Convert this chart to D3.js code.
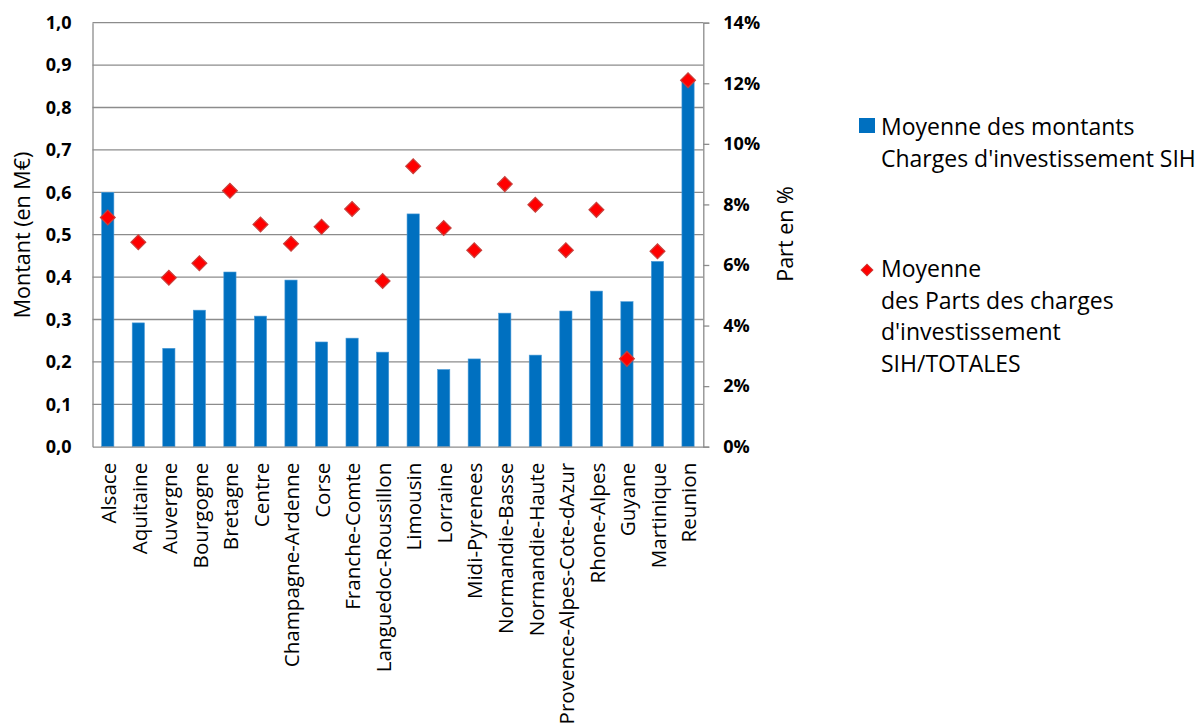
<!DOCTYPE html>
<html><head><meta charset="utf-8">
<script src="https://cdn.jsdelivr.net/npm/d3@7/dist/d3.min.js"></script>
<style>
body{margin:0;background:#fff;}
text{font-family:"Open Sans",sans-serif;fill:#000;}
</style></head>
<body>
<svg id="c" width="1198" height="728"></svg>
<script>
const categories = ["Alsace","Aquitaine","Auvergne","Bourgogne","Bretagne","Centre","Champagne-Ardenne","Corse","Franche-Comte","Languedoc-Roussillon","Limousin","Lorraine","Midi-Pyrenees","Normandie-Basse","Normandie-Haute","Provence-Alpes-Cote-dAzur","Rhone-Alpes","Guyane","Martinique","Reunion"];
const montants = [0.600,0.292,0.232,0.322,0.412,0.308,0.393,0.247,0.256,0.223,0.549,0.182,0.207,0.315,0.216,0.320,0.367,0.342,0.437,0.865];
const parts = [0.0757,0.0675,0.0558,0.0606,0.0845,0.0734,0.0670,0.0726,0.0785,0.0547,0.0926,0.0722,0.0649,0.0867,0.0799,0.0649,0.0782,0.0290,0.0645,0.1210];
const leftTicks = [0,0.1,0.2,0.3,0.4,0.5,0.6,0.7,0.8,0.9,1.0];
const rightTicks = [0,0.02,0.04,0.06,0.08,0.10,0.12,0.14];
const legendBar = ["Moyenne des montants","Charges d'investissement SIH"];
const legendDot = ["Moyenne","des Parts des charges","d'investissement","SIH/TOTALES"];

const svg = d3.select("#c");
const L = 92.5, R = 703.3, T = 22.7, B = 446.7;
const x = d3.scaleBand().domain(categories).range([L, R]).paddingInner(0.6).paddingOuter(0.3);
const y = d3.scaleLinear().domain([0,1]).range([B, T]);
const y2 = d3.scaleLinear().domain([0,0.14]).range([B, T]);
const grid = "#8c8c8c";

// gridlines
svg.append("g").selectAll("line").data(leftTicks.slice(1)).join("line")
  .attr("x1", L).attr("x2", R).attr("y1", d => y(d)).attr("y2", d => y(d))
  .attr("stroke", grid).attr("stroke-width", 1.3);

// bars
svg.append("g").selectAll("rect").data(montants).join("rect")
  .attr("x", (d,i) => x(categories[i]))
  .attr("width", x.bandwidth())
  .attr("y", d => y(d)).attr("height", d => B - y(d))
  .attr("fill", "#0070C0").attr("stroke", "#4a9ad6").attr("stroke-width", 0.6);

// left axis
const la = svg.append("g").attr("transform", `translate(${L},0)`)
  .call(d3.axisLeft(y).tickValues(leftTicks).tickSize(0).tickPadding(21)
    .tickFormat(d => d3.format(".1f")(d).replace(".", ",")));
la.select(".domain").attr("stroke", grid).attr("stroke-width", 1.3);
la.selectAll("text").attr("font-size", 18).attr("font-weight", "bold").attr("font-family", "Open Sans");

// right axis
const ra = svg.append("g").attr("transform", `translate(${R},0)`)
  .call(d3.axisRight(y2).tickValues(rightTicks).tickSize(6).tickPadding(14)
    .tickFormat(d => Math.round(d * 100) + "%"));
ra.select(".domain").attr("stroke", grid).attr("stroke-width", 1.3);
ra.selectAll("line").attr("stroke", grid).attr("stroke-width", 1.3);
ra.selectAll("text").attr("font-size", 18).attr("font-weight", "bold").attr("font-family", "Open Sans");

// bottom axis
const ba = svg.append("g").attr("transform", `translate(0,${B})`)
  .call(d3.axisBottom(x).tickSize(0).tickPadding(0));
ba.select(".domain").attr("stroke", grid).attr("stroke-width", 1.3);
ba.selectAll("text")
  .attr("font-size", 20.6).attr("font-family", "Open Sans")
  .attr("transform", "rotate(-90)")
  .attr("text-anchor", "end")
  .attr("x", -16).attr("y", 1).attr("dy", "0.35em");

// diamonds
svg.append("g").selectAll("path").data(parts).join("path")
  .attr("d", d3.symbol().type(d3.symbolSquare).size(110))
  .attr("transform", (d,i) => `translate(${x(categories[i]) + x.bandwidth()/2},${y2(d)}) rotate(45)`)
  .attr("fill", "#FF0000").attr("stroke", "#c9403c").attr("stroke-width", 1.2);

// axis titles
svg.append("text").attr("transform", "translate(30,235) rotate(-90)")
  .attr("text-anchor", "middle").attr("font-size", 21.5).text("Montant (en M€)");
svg.append("text").attr("transform", "translate(793,234) rotate(-90)")
  .attr("text-anchor", "middle").attr("font-size", 21.5).text("Part en %");

// legend
svg.append("rect").attr("x", 859).attr("y", 118).attr("width", 16).attr("height", 15).attr("fill", "#0070C0");
svg.append("g").selectAll("text").data(legendBar).join("text")
  .attr("x", 881).attr("y", (d,i) => 135 + i*31.5).attr("font-size", 23).text(d => d);
svg.append("path").attr("d", d3.symbol().type(d3.symbolSquare).size(70))
  .attr("transform", "translate(867,270) rotate(45)")
  .attr("fill", "#FF0000").attr("stroke", "#c9403c").attr("stroke-width", 1);
svg.append("g").selectAll("text").data(legendDot).join("text")
  .attr("x", 881).attr("y", (d,i) => 277 + i*31.5).attr("font-size", 23).text(d => d);
</script>
</body></html>
